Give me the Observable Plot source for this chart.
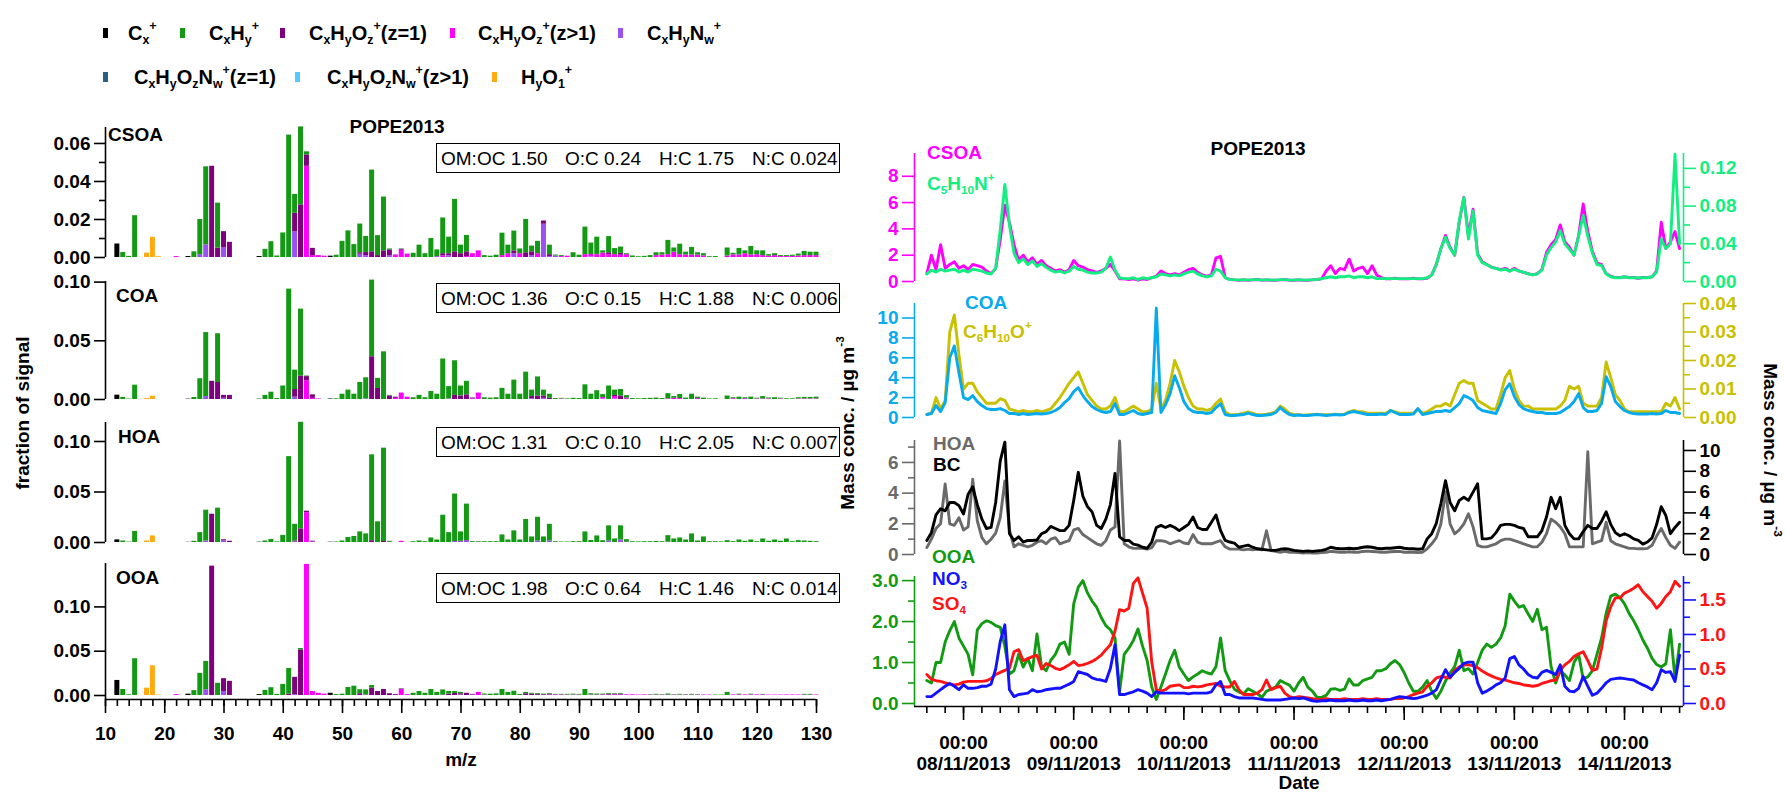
<!DOCTYPE html>
<html>
<head>
<meta charset="utf-8">
<script src="https://cdn.jsdelivr.net/npm/d3@7"></script>
<script src="https://cdn.jsdelivr.net/npm/@observablehq/plot@0.6"></script>
<style>
html,body{margin:0;padding:0;background:#fff;}
#root{position:relative;width:1785px;height:797px;overflow:hidden;background:#fff;font-family:"Liberation Sans",Arial,Helvetica,sans-serif;color:#000;}
#root svg{position:absolute;left:0;top:0;}
.t{position:absolute;white-space:nowrap;line-height:1.2;}
.t sub,.bt sub{font-size:0.62em;vertical-align:-0.32em;line-height:0;}
.t sup,.bt sup{font-size:0.62em;vertical-align:0.8em;line-height:0;}
.box{position:absolute;border:1.5px solid #000;box-sizing:border-box;}
.bt{position:absolute;top:50%;transform:translateY(-50%);white-space:nowrap;font-size:19px;line-height:1;}
.sw{position:absolute;width:5px;height:10px;}
</style>
</head>
<body>
<div id="root"></div>
<script>
// ---------------- DATA ----------------
const mzList = d3.range(12, 131);
const mzMajor = d3.range(10, 131, 10);
const mzMinor = d3.range(10, 131, 2);

const classKeys = ["Cx","CxHy","CxHyOz1","CxHyOzp","CxHyNw","CxHyOzNw1","CxHyOzNwp","HyO1"];
const classLabels = ["C<sub>x</sub><sup>+</sup>","C<sub>x</sub>H<sub>y</sub><sup>+</sup>","C<sub>x</sub>H<sub>y</sub>O<sub>z</sub><sup>+</sup>(z=1)","C<sub>x</sub>H<sub>y</sub>O<sub>z</sub><sup>+</sup>(z&gt;1)","C<sub>x</sub>H<sub>y</sub>N<sub>w</sub><sup>+</sup>","C<sub>x</sub>H<sub>y</sub>O<sub>z</sub>N<sub>w</sub><sup>+</sup>(z=1)","C<sub>x</sub>H<sub>y</sub>O<sub>z</sub>N<sub>w</sub><sup>+</sup>(z&gt;1)","H<sub>y</sub>O<sub>1</sub><sup>+</sup>"];
const classColors = ["#000000","#139913","#7f007f","#ff00ff","#9b50f0","#2b5f85","#55c8ff","#ffaa10"];

// CSOA profile [m/z, fraction]
const csoa_Cx = [[12,0.0071],[24,0.0005],[36,0.0005],[48,0.0007],[60,0.0004]];
const csoa_CxHy = [[13,0.0026],[14,0.0006],[15,0.022],[25,0.003],[26,0.0185],[27,0.041],[29,0.0236],[37,0.0043],[38,0.0083],[39,0.0008],[40,0.0129],[41,0.0644],[42,0.0099],[43,0.041],[44,0.0016],[49,0.0012],[50,0.0085],[51,0.014],[52,0.0068],[53,0.0151],[54,0.0085],[55,0.043],[56,0.0105],[57,0.0283],[58,0.0005],[62,0.0022],[63,0.0065],[64,0.002],[65,0.010],[66,0.0035],[67,0.0188],[68,0.0087],[69,0.0276],[70,0.0045],[71,0.0086],[74,0.001],[75,0.0007],[76,0.0012],[77,0.0118],[78,0.0045],[79,0.0104],[80,0.0025],[81,0.0175],[82,0.003],[83,0.0065],[85,0.005],[86,0.0005],[87,0.0005],[89,0.0025],[90,0.0012],[91,0.0145],[92,0.006],[93,0.0092],[94,0.0012],[95,0.0085],[96,0.0032],[97,0.0033],[98,0.0005],[99,0.0008],[100,0.0004],[101,0.0006],[102,0.001],[103,0.0015],[104,0.0012],[105,0.0075],[106,0.0022],[107,0.0055],[108,0.0015],[109,0.004],[110,0.0012],[111,0.0012],[112,0.0004],[113,0.0005],[115,0.0042],[116,0.0008],[117,0.0035],[118,0.0015],[119,0.0045],[120,0.002],[121,0.0025],[122,0.0008],[123,0.001],[124,0.0005],[125,0.0005],[126,0.0006],[127,0.001],[128,0.0022],[129,0.0018],[130,0.0018]];
const csoa_CxHyOz1 = [[28,0.048],[29,0.005],[30,0.0086],[31,0.008],[42,0.0097],[43,0.0277],[44,0.006],[45,0.0038],[53,0.0008],[54,0.0016],[55,0.003],[56,0.001],[57,0.0035],[58,0.003],[59,0.0003],[67,0.0012],[68,0.001],[69,0.003],[70,0.002],[71,0.0025],[79,0.0015],[81,0.0025],[82,0.002],[84,0.0017],[85,0.001],[95,0.001],[97,0.001]];
const csoa_CxHyOzp = [[22,0.0005],[44,0.048],[45,0.001],[46,0.001],[47,0.0007],[59,0.001],[60,0.004],[61,0.0018],[67,0.0008],[71,0.0005],[72,0.002],[73,0.0035],[77,0.001],[78,0.002],[80,0.002],[83,0.002],[87,0.0005],[88,0.0007],[91,0.0015],[92,0.0012],[93,0.0015],[94,0.0023],[95,0.0015],[96,0.0015],[97,0.0012],[98,0.0015],[103,0.001],[104,0.0013],[105,0.0015],[106,0.0028],[107,0.0015],[108,0.0013],[109,0.0013],[110,0.0013],[111,0.0008],[115,0.0008],[116,0.0014],[117,0.0013],[118,0.002],[119,0.0013],[120,0.0015],[121,0.001],[122,0.0007],[123,0.001],[124,0.0005],[125,0.0005],[126,0.0006],[127,0.0008],[128,0.001],[129,0.001],[130,0.001]];
const csoa_CxHyNw = [[26,0.0015],[27,0.0067],[30,0.005],[42,0.0136],[53,0.0017],[54,0.001],[58,0.001],[66,0.0005],[68,0.001],[79,0.002],[82,0.001],[84,0.0175],[85,0.0005],[86,0.0008],[92,0.0004]];
const csoa_HyO1 = [[17,0.0023],[18,0.0106],[19,0.0004]];

// COA profile
const coa_Cx = [[12,0.0037],[24,0.0003],[36,0.0003],[48,0.0004]];
const coa_CxHy = [[13,0.0018],[14,0.0004],[15,0.0122],[25,0.0017],[26,0.0177],[27,0.0545],[29,0.0415],[37,0.0035],[38,0.0062],[39,0.0008],[40,0.0115],[41,0.094],[42,0.0165],[43,0.057],[44,0.0005],[49,0.0006],[50,0.0045],[51,0.008],[52,0.0045],[53,0.0145],[54,0.018],[55,0.0653],[56,0.0086],[57,0.0406],[58,0.0005],[62,0.0015],[63,0.0035],[64,0.0015],[65,0.0068],[66,0.0045],[67,0.0345],[68,0.0105],[69,0.0295],[70,0.0085],[71,0.0115],[74,0.0015],[75,0.0012],[76,0.0015],[77,0.0095],[78,0.0045],[79,0.0165],[80,0.0045],[81,0.0233],[82,0.0055],[83,0.0162],[84,0.005],[85,0.0035],[86,0.0008],[87,0.0005],[88,0.0005],[89,0.001],[90,0.0008],[91,0.0125],[92,0.0045],[93,0.0075],[94,0.0025],[95,0.0115],[96,0.0045],[97,0.0055],[98,0.002],[99,0.0008],[100,0.0006],[101,0.0008],[102,0.001],[103,0.0012],[104,0.0008],[105,0.0045],[106,0.0015],[107,0.0035],[108,0.0012],[109,0.0045],[110,0.0012],[111,0.0012],[112,0.0005],[113,0.0006],[115,0.003],[116,0.0008],[117,0.002],[118,0.0008],[119,0.002],[120,0.0006],[121,0.002],[122,0.0008],[123,0.0015],[124,0.0006],[125,0.0006],[126,0.0006],[127,0.001],[128,0.0013],[129,0.0013],[130,0.0015]];
const coa_CxHyOz1 = [[28,0.0155],[29,0.0145],[30,0.0025],[31,0.0035],[42,0.0065],[43,0.02],[44,0.0035],[45,0.003],[55,0.0364],[56,0.0094],[58,0.003],[59,0.001],[69,0.0035],[70,0.003],[71,0.004],[72,0.0008],[82,0.002],[83,0.003],[84,0.002],[85,0.001],[96,0.001],[97,0.003],[98,0.0008]];
const coa_CxHyOzp = [[44,0.016],[45,0.001],[46,0.0005],[59,0.001],[60,0.0055],[61,0.002],[72,0.0005],[73,0.0055],[87,0.0005],[94,0.0012],[96,0.002],[98,0.0005],[105,0.0005],[106,0.001],[107,0.0008],[110,0.0008],[116,0.0007],[118,0.0007],[120,0.0005],[121,0.0005],[122,0.0005],[124,0.0005],[127,0.0005],[128,0.0005],[129,0.0005],[130,0.0005]];
const coa_CxHyNw = [[27,0.0025],[30,0.001],[42,0.002],[54,0.0005],[68,0.0005],[82,0.0005],[84,0.001],[94,0.0005],[96,0.0005]];
const coa_HyO1 = [[17,0.0008],[18,0.0028]];

// HOA profile
const hoa_Cx = [[12,0.0026],[24,0.0002],[36,0.0003],[48,0.0003]];
const hoa_CxHy = [[13,0.0015],[14,0.0004],[15,0.011],[25,0.0012],[26,0.0098],[27,0.0305],[29,0.034],[37,0.0015],[38,0.003],[39,0.0006],[40,0.007],[41,0.085],[42,0.0165],[43,0.1055],[49,0.0005],[50,0.0015],[51,0.005],[52,0.006],[53,0.0105],[54,0.0085],[55,0.085],[56,0.0205],[57,0.0924],[58,0.0008],[62,0.0008],[63,0.0015],[64,0.0008],[65,0.0045],[66,0.0025],[67,0.027],[68,0.0098],[69,0.047],[70,0.0093],[71,0.036],[72,0.0008],[73,0.0006],[74,0.0008],[75,0.0008],[76,0.0008],[77,0.0075],[78,0.0025],[79,0.0115],[80,0.0025],[81,0.0228],[82,0.0055],[83,0.0235],[84,0.0055],[85,0.0165],[86,0.0008],[87,0.0005],[88,0.0005],[89,0.0008],[90,0.0008],[91,0.0105],[92,0.002],[93,0.0065],[94,0.0018],[95,0.015],[96,0.0035],[97,0.014],[98,0.0025],[99,0.0008],[100,0.0006],[101,0.0008],[102,0.0008],[103,0.001],[104,0.0008],[105,0.0065],[106,0.0035],[107,0.0045],[108,0.0025],[109,0.0085],[110,0.0015],[111,0.0055],[112,0.0008],[113,0.0008],[114,0.0006],[115,0.0018],[116,0.0008],[117,0.0025],[118,0.0012],[119,0.0025],[120,0.0008],[121,0.0035],[122,0.0012],[123,0.0025],[124,0.0012],[125,0.0035],[126,0.0008],[127,0.0018],[128,0.0015],[129,0.0012],[130,0.0008]];
const hoa_CxHyOz1 = [[28,0.028],[30,0.0012],[31,0.0012],[42,0.001],[43,0.0135],[44,0.0015],[45,0.0008],[55,0.0018],[57,0.001],[58,0.0004],[71,0.0005]];
const hoa_CxHyOzp = [[44,0.0295],[45,0.0005],[60,0.0012],[73,0.0004],[98,0.0003],[105,0.0003]];
const hoa_CxHyNw = [[27,0.0015],[30,0.0015],[42,0.0005],[69,0.001],[70,0.0012],[71,0.0015],[83,0.0015],[85,0.0015],[95,0.0015],[97,0.0025]];
const hoa_HyO1 = [[17,0.0015],[18,0.0065]];

// OOA profile
const ooa_Cx = [[12,0.017],[24,0.0015],[36,0.001],[48,0.0025],[60,0.0005]];
const ooa_CxHy = [[13,0.0068],[14,0.0008],[15,0.0415],[25,0.0055],[26,0.025],[27,0.032],[29,0.0138],[37,0.0058],[38,0.0088],[39,0.0012],[40,0.0125],[41,0.029],[43,0.0015],[49,0.001],[50,0.0015],[51,0.009],[52,0.0105],[53,0.0045],[54,0.0058],[55,0.0028],[62,0.0025],[63,0.0045],[64,0.0025],[65,0.0068],[66,0.0035],[67,0.0058],[68,0.003],[69,0.0022],[70,0.0015],[74,0.0012],[75,0.0015],[76,0.0018],[77,0.0068],[78,0.0035],[79,0.0048],[80,0.0012],[81,0.0015],[82,0.001],[83,0.001],[84,0.0008],[85,0.0008],[86,0.0005],[87,0.0005],[88,0.0008],[89,0.001],[90,0.0008],[91,0.0068],[92,0.0015],[93,0.0012],[94,0.0008],[95,0.001],[96,0.0005],[97,0.0008],[102,0.0005],[103,0.0008],[104,0.0005],[105,0.0012],[106,0.0005],[107,0.0008],[108,0.0005],[109,0.0008],[110,0.0005],[113,0.0005],[114,0.0005],[115,0.0035],[117,0.0008],[119,0.0008],[121,0.0005],[128,0.0008],[129,0.0008]];
const ooa_CxHyOz1 = [[28,0.146],[30,0.0145],[31,0.016],[41,0.0015],[42,0.0195],[43,0.0515],[53,0.002],[55,0.0085],[56,0.0045],[57,0.0068],[58,0.002],[59,0.001],[67,0.0005],[68,0.0015],[69,0.0023],[70,0.0015],[71,0.0025],[72,0.0008],[81,0.002],[82,0.0015],[83,0.001],[84,0.0008],[85,0.001],[95,0.0008],[96,0.0008],[97,0.0008],[105,0.0005]];
const ooa_CxHyOzp = [[22,0.001],[44,0.148],[45,0.0045],[46,0.0025],[47,0.0015],[60,0.0068],[61,0.001],[72,0.0005],[73,0.0035],[74,0.0005],[85,0.0005],[86,0.0008],[87,0.0008],[88,0.0005],[89,0.0005],[90,0.0005],[92,0.0005],[93,0.0005],[94,0.0008],[95,0.0005],[96,0.0008],[97,0.0007],[98,0.0008],[99,0.0008],[100,0.0005],[101,0.0007],[102,0.0005],[103,0.0005],[104,0.0005],[106,0.0005],[107,0.0005],[108,0.0005],[109,0.0005],[110,0.0005],[111,0.0006],[112,0.0005],[116,0.0007],[117,0.0007],[118,0.0007],[119,0.0007],[120,0.0007],[121,0.0007],[122,0.0005],[123,0.0005],[124,0.0005],[125,0.0006],[126,0.0006],[127,0.0006],[128,0.0005],[129,0.0005],[130,0.0006]];
const ooa_CxHyNw = [[27,0.0065],[30,0.0045],[42,0.001],[54,0.0005],[70,0.0005]];
const ooa_HyO1 = [[17,0.0083],[18,0.0335],[19,0.0005]];
const noNitrogenOxygen = [];

const elemRatios = {
  CSOA: ["OM:OC 1.50","O:C 0.24","H:C 1.75","N:C 0.024"],
  COA:  ["OM:OC 1.36","O:C 0.15","H:C 1.88","N:C 0.006"],
  HOA:  ["OM:OC 1.31","O:C 0.10","H:C 2.05","N:C 0.007"],
  OOA:  ["OM:OC 1.98","O:C 0.64","H:C 1.46","N:C 0.014"]
};

// Time series: hourly from 07/11/2013 16:00 (UTC), 165 points
const seriesStart = Date.UTC(2013, 10, 7, 16);
const csoa = [0.6,2.0,0.9,2.8,1.0,1.3,1.5,1.0,1.2,0.9, 1.3,1.2,1.1,0.8,0.6,1.0,3.2,5.8,4.5,2.8, 1.6,2.0,1.5,1.8,1.3,1.6,1.2,1.0,0.8,0.9, 0.7,0.9,1.6,1.2,1.1,0.9,0.8,0.7,0.8,1.0, 1.3,0.8,0.2,0.2,0.15,0.2,0.1,0.2,0.15,0.3, 0.4,0.8,0.6,0.5,0.6,0.5,0.7,0.9,1.0,0.7, 0.5,0.4,0.5,1.8,1.9,0.3,0.15,0.12,0.1,0.12, 0.1,0.12,0.15,0.1,0.12,0.1,0.1,0.12,0.15,0.1, 0.1,0.12,0.1,0.1,0.12,0.15,0.2,0.8,1.2,0.6, 1.0,0.9,1.7,0.8,1.0,1.1,0.6,1.2,0.5,0.3, 0.2,0.2,0.25,0.2,0.2,0.2,0.25,0.2,0.2,0.25, 0.5,1.3,2.5,3.5,2.6,2.0,4.5,6.4,3.5,5.5, 2.1,1.5,1.3,1.1,1.0,0.9,1.0,0.8,1.0,0.8, 0.7,0.6,0.5,0.6,0.9,2.2,2.8,3.2,4.3,3.0, 2.6,2.0,3.5,5.9,3.8,2.3,1.4,1.3,0.6,0.4, 0.3,0.3,0.35,0.3,0.3,0.25,0.3,0.3,0.35,0.8, 4.5,2.5,3.0,3.8,2.5];
const c5h10n = [0.008,0.012,0.010,0.013,0.011,0.012,0.013,0.010,0.012,0.010, 0.013,0.012,0.011,0.009,0.008,0.014,0.055,0.103,0.060,0.030, 0.020,0.024,0.018,0.022,0.016,0.019,0.015,0.012,0.010,0.011, 0.009,0.011,0.016,0.013,0.012,0.010,0.009,0.009,0.010,0.014, 0.026,0.012,0.004,0.003,0.003,0.004,0.002,0.004,0.003,0.004, 0.005,0.008,0.007,0.006,0.007,0.006,0.008,0.010,0.011,0.008, 0.006,0.005,0.006,0.013,0.011,0.004,0.002,0.002,0.0015,0.002, 0.0015,0.002,0.002,0.0015,0.002,0.0015,0.0015,0.002,0.002,0.0015, 0.0015,0.002,0.0015,0.0015,0.002,0.002,0.003,0.004,0.005,0.004, 0.005,0.005,0.006,0.004,0.005,0.005,0.004,0.005,0.003,0.003, 0.003,0.003,0.003,0.003,0.003,0.003,0.003,0.003,0.003,0.004, 0.007,0.018,0.035,0.047,0.035,0.028,0.065,0.089,0.045,0.075, 0.028,0.020,0.018,0.015,0.014,0.012,0.013,0.011,0.013,0.011, 0.010,0.008,0.007,0.008,0.012,0.028,0.036,0.042,0.054,0.040, 0.034,0.028,0.048,0.070,0.048,0.030,0.018,0.017,0.008,0.005, 0.004,0.004,0.005,0.004,0.004,0.004,0.004,0.004,0.005,0.010, 0.045,0.035,0.040,0.135,0.040];
const coa = [0.3,0.4,1.2,0.6,1.5,6.0,7.2,4.5,2.0,1.8, 2.2,1.6,1.2,0.9,0.8,0.8,0.9,0.7,0.4,0.4, 0.3,0.4,0.3,0.35,0.4,0.35,0.4,0.5,0.7,1.0, 1.5,1.9,2.6,3.0,2.2,1.6,1.1,0.8,0.6,0.5, 0.6,1.4,0.3,0.3,0.5,0.7,0.4,0.3,0.4,0.5, 11.0,0.5,1.3,2.4,4.2,3.0,1.6,0.9,0.6,0.5, 0.5,0.4,0.5,1.0,1.4,0.3,0.2,0.2,0.25,0.3, 0.45,0.3,0.2,0.2,0.25,0.3,0.5,1.0,0.6,0.3, 0.2,0.25,0.2,0.2,0.25,0.3,0.25,0.2,0.25,0.3, 0.25,0.3,0.5,0.6,0.5,0.4,0.3,0.3,0.3,0.35, 0.3,0.7,0.5,0.3,0.3,0.3,0.35,0.9,0.3,0.4, 0.5,0.6,0.6,0.7,0.6,1.0,1.4,2.2,2.0,1.7, 1.0,0.7,0.6,0.5,0.4,1.4,2.8,3.4,2.1,1.3, 0.9,0.7,0.6,0.5,0.5,0.4,0.4,0.4,0.5,0.8, 1.1,1.6,2.4,1.0,0.6,0.6,0.7,1.4,4.1,3.1, 1.6,1.1,0.7,0.5,0.4,0.35,0.35,0.35,0.4,0.35, 0.4,0.7,0.5,0.5,0.4];
const c6h10o = [0.001,0.0015,0.007,0.003,0.006,0.030,0.036,0.022,0.010,0.012, 0.012,0.009,0.007,0.005,0.005,0.005,0.0066,0.006,0.003,0.0025, 0.002,0.0025,0.002,0.002,0.0025,0.002,0.0025,0.003,0.005,0.007, 0.0095,0.012,0.014,0.016,0.012,0.008,0.006,0.004,0.003,0.003, 0.004,0.007,0.002,0.002,0.003,0.004,0.003,0.002,0.002,0.003, 0.012,0.003,0.006,0.012,0.020,0.016,0.011,0.007,0.004,0.003, 0.003,0.0025,0.003,0.005,0.0065,0.002,0.001,0.001,0.0012,0.0015, 0.002,0.0015,0.001,0.001,0.0012,0.0015,0.002,0.004,0.003,0.0015, 0.001,0.001,0.0008,0.001,0.001,0.0012,0.001,0.001,0.001,0.0012, 0.001,0.0012,0.002,0.0025,0.002,0.002,0.0015,0.0015,0.0015,0.0015, 0.0015,0.0025,0.002,0.0015,0.0015,0.0015,0.0015,0.003,0.0015,0.002, 0.003,0.004,0.004,0.005,0.004,0.008,0.012,0.013,0.012,0.012, 0.006,0.005,0.004,0.003,0.003,0.008,0.014,0.0165,0.010,0.006, 0.004,0.004,0.003,0.003,0.003,0.003,0.003,0.003,0.004,0.006, 0.011,0.010,0.011,0.005,0.004,0.004,0.004,0.007,0.0195,0.014, 0.008,0.006,0.003,0.002,0.002,0.002,0.002,0.002,0.002,0.002, 0.002,0.005,0.004,0.007,0.003];
const hoa = [0.45,1.0,1.7,2.0,4.6,2.0,1.9,2.4,1.6,1.8, 4.9,2.2,1.1,0.7,1.0,1.4,2.4,4.8,1.6,0.5, 0.7,0.6,0.5,0.6,0.8,0.9,0.7,1.0,1.1,0.7, 0.8,0.9,1.6,1.7,1.3,1.1,0.9,0.7,0.6,0.9, 1.6,1.8,7.4,0.7,0.5,0.4,0.4,0.4,0.35,0.45, 0.9,0.9,0.85,0.7,0.8,0.9,0.75,0.7,1.3,0.8, 0.7,0.7,0.7,0.8,0.9,0.5,0.35,0.35,0.35,0.3, 0.35,0.3,0.35,0.3,1.55,0.25,0.2,0.15,0.2,0.15, 0.15,0.12,0.1,0.12,0.1,0.1,0.12,0.15,0.2,0.18, 0.15,0.15,0.18,0.15,0.15,0.2,0.22,0.2,0.18,0.15, 0.15,0.18,0.2,0.2,0.15,0.15,0.15,0.12,0.15,0.37, 0.7,1.1,2.0,4.1,2.0,1.35,1.6,2.0,2.65,1.8, 0.6,0.5,0.5,0.6,0.7,0.9,1.0,1.0,0.9,0.8, 0.7,0.6,0.5,0.5,0.8,1.35,2.3,2.1,1.8,1.35, 0.5,0.5,0.5,0.5,6.7,0.7,0.8,0.9,2.1,0.9, 0.7,0.6,0.5,0.4,0.4,0.37,0.37,0.4,0.6,1.2, 1.7,1.1,0.6,0.4,0.8];
const bc = [1.35,2.1,3.8,4.4,4.2,5.0,5.0,4.7,3.9,5.8, 6.5,4.8,3.4,2.5,2.6,5.0,9.0,10.8,2.0,1.35, 1.7,1.2,1.35,1.35,1.4,2.0,2.2,2.7,2.5,2.3, 2.3,2.8,5.2,7.9,5.6,4.6,4.1,2.8,2.5,3.4, 4.8,7.8,1.7,1.35,1.35,1.0,0.9,0.7,0.6,1.2, 2.6,2.8,2.6,2.8,2.6,2.3,2.6,2.9,3.6,2.6, 2.4,2.4,3.1,3.8,2.3,1.35,1.2,1.1,0.7,0.8, 0.9,0.7,0.55,0.5,0.45,0.4,0.4,0.5,0.55,0.5, 0.4,0.35,0.3,0.35,0.3,0.35,0.4,0.5,0.7,0.6, 0.55,0.55,0.6,0.55,0.6,0.7,0.75,0.7,0.6,0.55, 0.6,0.6,0.65,0.7,0.6,0.55,0.55,0.5,0.55,1.5, 2.0,3.0,4.9,7.1,5.0,4.2,5.2,5.5,5.2,6.0, 6.8,1.5,1.5,1.6,2.1,2.8,2.9,2.9,2.8,2.6, 2.5,1.7,1.7,1.7,2.3,3.6,5.5,4.4,5.5,2.8, 2.0,1.5,1.5,2.2,2.8,2.5,2.5,3.2,4.1,2.9, 2.1,1.8,2.0,1.8,1.5,1.35,1.0,1.2,1.6,2.9, 4.6,3.75,2.0,2.6,3.1];
const ooa = [0.56,0.5,1.0,1.0,1.5,1.78,2.0,1.6,1.4,1.2, 0.7,1.8,1.95,2.02,1.98,1.9,1.86,1.4,0.72,0.8, 1.2,0.89,1.1,0.8,1.7,0.9,0.8,1.05,1.2,1.45, 1.5,1.2,2.43,2.84,3.0,2.7,2.5,2.35,2.1,1.9, 1.8,1.6,0.3,1.2,1.35,1.54,1.82,1.4,1.05,0.4, 0.1,0.4,0.72,1.05,1.3,0.89,0.72,0.56,0.65,0.72, 0.8,0.75,0.72,0.9,1.6,0.8,0.56,0.35,0.28,0.24, 0.36,0.3,0.24,0.15,0.3,0.35,0.4,0.56,0.5,0.45, 0.3,0.5,0.64,0.4,0.3,0.15,0.15,0.2,0.35,0.36, 0.32,0.35,0.6,0.45,0.45,0.56,0.6,0.64,0.8,0.8, 0.85,0.97,1.05,0.95,0.75,0.5,0.3,0.3,0.4,0.56, 0.3,0.12,0.3,0.55,0.75,0.9,1.3,0.8,0.85,0.72, 1.0,1.3,1.45,1.37,1.45,1.6,1.9,2.67,2.5,2.35, 2.39,2.19,2.0,2.3,1.8,1.86,0.9,0.5,0.8,0.7, 0.56,1.0,1.2,0.6,0.65,0.8,1.2,1.6,2.2,2.62, 2.67,2.59,2.43,2.2,2.02,1.8,1.55,1.35,1.1,0.95, 0.89,0.97,1.8,0.6,1.45];
const no3 = [0.1,0.1,0.15,0.2,0.25,0.29,0.25,0.2,0.27,0.22, 0.22,0.23,0.25,0.25,0.28,0.5,0.9,1.14,0.2,0.1, 0.13,0.14,0.15,0.2,0.17,0.18,0.2,0.21,0.22,0.22, 0.25,0.28,0.32,0.46,0.44,0.42,0.37,0.35,0.34,0.32, 0.51,0.85,0.13,0.13,0.15,0.17,0.2,0.18,0.15,0.1, 0.17,0.15,0.15,0.15,0.15,0.15,0.15,0.14,0.15,0.15, 0.15,0.15,0.17,0.27,0.32,0.13,0.13,0.1,0.08,0.08, 0.08,0.08,0.07,0.06,0.05,0.05,0.05,0.05,0.06,0.07, 0.08,0.07,0.08,0.06,0.04,0.03,0.04,0.04,0.05,0.04, 0.04,0.04,0.05,0.04,0.04,0.05,0.04,0.04,0.05,0.04, 0.05,0.06,0.08,0.1,0.09,0.08,0.07,0.08,0.1,0.12, 0.15,0.2,0.35,0.49,0.38,0.45,0.51,0.58,0.6,0.6, 0.3,0.15,0.18,0.22,0.27,0.3,0.37,0.65,0.68,0.56, 0.5,0.42,0.38,0.37,0.45,0.48,0.45,0.42,0.56,0.25, 0.18,0.17,0.22,0.39,0.25,0.12,0.15,0.22,0.3,0.35, 0.36,0.37,0.36,0.35,0.34,0.3,0.27,0.24,0.2,0.3, 0.49,0.45,0.46,0.32,0.7];
const so4 = [0.42,0.35,0.33,0.32,0.3,0.28,0.27,0.28,0.31,0.32, 0.32,0.32,0.32,0.33,0.36,0.42,0.45,0.48,0.51,0.75, 0.78,0.62,0.65,0.68,0.7,0.5,0.58,0.55,0.51,0.49, 0.52,0.56,0.61,0.55,0.56,0.58,0.61,0.65,0.7,0.78, 0.85,1.05,1.36,1.34,1.38,1.74,1.82,1.6,1.38,0.6, 0.2,0.18,0.2,0.25,0.26,0.27,0.23,0.23,0.25,0.24, 0.25,0.27,0.28,0.29,0.25,0.24,0.24,0.32,0.2,0.13, 0.13,0.13,0.15,0.2,0.34,0.2,0.23,0.25,0.15,0.1, 0.08,0.1,0.09,0.08,0.07,0.06,0.06,0.07,0.06,0.06, 0.06,0.07,0.06,0.06,0.06,0.07,0.06,0.06,0.07,0.06, 0.06,0.06,0.07,0.07,0.08,0.1,0.13,0.15,0.17,0.25, 0.3,0.37,0.39,0.38,0.37,0.48,0.53,0.56,0.56,0.55, 0.52,0.47,0.43,0.4,0.37,0.35,0.34,0.32,0.3,0.29, 0.27,0.26,0.25,0.26,0.29,0.31,0.33,0.34,0.48,0.56, 0.61,0.68,0.72,0.75,0.62,0.48,0.5,0.8,1.2,1.4, 1.53,1.53,1.6,1.63,1.67,1.72,1.62,1.55,1.48,1.38, 1.45,1.55,1.62,1.77,1.7];

// ---------------- RENDER ----------------
const W = 1785, H = 797;
const root = document.getElementById("root");
const FONT = "'Liberation Sans', Arial, Helvetica, sans-serif";
const classColor = Object.fromEntries(classKeys.map((k, i) => [k, classColors[i]]));
const stackOrder = ["HyO1","CxHyOzNwp","CxHyOzNw1","CxHyNw","CxHyOzp","CxHyOz1","CxHy","Cx"];

function text(html, x, cy, o = {}) {
  const size = o.size || 19;
  const d = document.createElement("div");
  d.className = "t";
  d.innerHTML = html;
  d.style.left = x + "px";
  d.style.top = (cy - 0.6 * size) + "px";
  d.style.fontSize = size + "px";
  d.style.fontWeight = o.weight || "bold";
  d.style.color = o.color || "#000";
  if (o.anchor === "middle") d.style.transform = "translateX(-50%)";
  if (o.rotate) { d.style.top = cy + "px"; d.style.transform = `translate(-50%,-50%) rotate(${o.rotate}deg)`; }
  root.appendChild(d);
}

function specPlot(prof, y0, y1, max, ticks, minor, withX) {
  const maps = {};
  for (const k of classKeys) maps[k] = new Map(prof[k] || []);
  const rows = [];
  for (const m of mzList) {
    let base = 0;
    for (const k of stackOrder) {
      const v = maps[k].get(m) || 0;
      if (v > 0) { rows.push({mz: m, y1: base, y2: base + v, fill: classColor[k]}); base += v; }
    }
  }
  const ins = withX ? 4 : 0;
  const marks = [
    Plot.rect(rows, {x1: d => d.mz - 0.42, x2: d => d.mz + 0.42, y1: "y1", y2: "y2", fill: "fill"}),
    Plot.ruleX([10], {stroke: "#000", strokeWidth: 1.6}),
    Plot.axisY({ticks, tickFormat: ".2f", tickSize: 11, tickPadding: 4, fontSize: 19, fontWeight: "bold", strokeWidth: 1.6, label: null})
  ];
  if (minor) marks.push(Plot.axisY({ticks: minor, tickSize: 6, tickFormat: () => "", strokeWidth: 1.6, label: null}));
  if (withX) marks.push(
    Plot.ruleY([0], {dy: ins, stroke: "#000", strokeWidth: 1.6}),
    Plot.axisX({ticks: mzMajor, tickSize: 14, tickPadding: 13, fontSize: 19, fontWeight: "bold", strokeWidth: 1.6, label: null}),
    Plot.axisX({ticks: mzMinor, tickSize: 7, tickFormat: () => "", strokeWidth: 1.6, label: null})
  );
  return Plot.plot({
    width: W, height: H,
    marginLeft: 105, marginRight: W - 816, marginTop: y0, marginBottom: H - y1 - ins, insetBottom: ins,
    x: withX ? {domain: [10, 130]} : {domain: [10, 130], axis: null},
    y: {domain: [0, max]},
    color: {type: "identity"},
    style: {background: "transparent", fontFamily: FONT, overflow: "visible"},
    marks
  });
}

const profiles = [
  {name: "CSOA", prof: {Cx: csoa_Cx, CxHy: csoa_CxHy, CxHyOz1: csoa_CxHyOz1, CxHyOzp: csoa_CxHyOzp, CxHyNw: csoa_CxHyNw, CxHyOzNw1: noNitrogenOxygen, CxHyOzNwp: noNitrogenOxygen, HyO1: csoa_HyO1},
   y0: 127, y1: 257, max: 0.0684, ticks: [0, 0.02, 0.04, 0.06], minor: [0.01, 0.03, 0.05], lx: 108, ly: 135, box: 143},
  {name: "COA", prof: {Cx: coa_Cx, CxHy: coa_CxHy, CxHyOz1: coa_CxHyOz1, CxHyOzp: coa_CxHyOzp, CxHyNw: coa_CxHyNw, HyO1: coa_HyO1},
   y0: 281, y1: 399, max: 0.1005, ticks: [0, 0.05, 0.10], minor: null, lx: 116, ly: 296, box: 283},
  {name: "HOA", prof: {Cx: hoa_Cx, CxHy: hoa_CxHy, CxHyOz1: hoa_CxHyOz1, CxHyOzp: hoa_CxHyOzp, CxHyNw: hoa_CxHyNw, HyO1: hoa_HyO1},
   y0: 422, y1: 542, max: 0.1188, ticks: [0, 0.05, 0.10], minor: null, lx: 118, ly: 437, box: 427},
  {name: "OOA", prof: {Cx: ooa_Cx, CxHy: ooa_CxHy, CxHyOz1: ooa_CxHyOz1, CxHyOzp: ooa_CxHyOzp, CxHyNw: ooa_CxHyNw, HyO1: ooa_HyO1},
   y0: 563, y1: 695, max: 0.149, ticks: [0, 0.05, 0.10], minor: null, lx: 116, ly: 578, box: 573, withX: true}
];
for (const p of profiles) {
  root.appendChild(specPlot(p.prof, p.y0, p.y1, p.max, p.ticks, p.minor, !!p.withX));
  text(p.name, p.lx, p.ly);
  const b = document.createElement("div");
  b.className = "box";
  b.style.cssText = `left:436px;top:${p.box}px;width:404px;height:30px;`;
  const offs = [4, 128, 222, 315];
  elemRatios[p.name].forEach((s, i) => {
    const sp = document.createElement("span");
    sp.className = "bt"; sp.style.left = offs[i] + "px"; sp.textContent = s;
    b.appendChild(sp);
  });
  root.appendChild(b);
}

// Time series panels
const times = csoa.map((_, i) => new Date(seriesStart + i * 3600e3));
const tStart = new Date(Date.UTC(2013, 10, 7, 13, 19));
const tEnd = new Date(Date.UTC(2013, 10, 14, 12, 51));
const dayTicks = d3.utcDays(new Date(Date.UTC(2013, 10, 8)), new Date(Date.UTC(2013, 10, 14, 1)));
const hourTicks = d3.utcHour.every(4).range(tStart, tEnd);
const fmtDay = d3.utcFormat("%d/%m/%Y");
const fmtTime = d3.utcFormat("%H:%M");

function tsPlot(c) {
  const ins = c.inset || 0;
  const marks = c.lines.map(s => Plot.line(s.v, {x: (d, i) => times[i], y: d => d, stroke: s.c, strokeWidth: 2.9}));
  marks.push(Plot.ruleX([c.anchor === "left" ? tStart : tEnd], {stroke: c.axisColor, strokeWidth: 1.6}));
  marks.push(Plot.axisY({anchor: c.anchor, ticks: c.ticks, tickFormat: c.fmt, tickSize: 12, tickPadding: 4, fontSize: 19, fontWeight: "bold", stroke: c.axisColor, fill: c.labelColor || c.axisColor, strokeWidth: 1.6, label: null}));
  if (c.minor) marks.push(Plot.axisY({anchor: c.anchor, ticks: c.minor, tickSize: 6, tickFormat: () => "", stroke: c.axisColor, strokeWidth: 1.6, label: null}));
  if (c.dateAxis) marks.push(
    Plot.ruleY([0], {dy: ins, stroke: "#000", strokeWidth: 1.6}),
    Plot.axisX({ticks: dayTicks, tickSize: 14, tickFormat: () => "", strokeWidth: 1.6, label: null}),
    Plot.axisX({ticks: hourTicks, tickSize: 7, tickFormat: () => "", strokeWidth: 1.6, label: null}),
    Plot.axisX({ticks: dayTicks, tickFormat: fmtTime, tickSize: 0, tickPadding: 29, fontSize: 19, fontWeight: "bold", label: null}),
    Plot.axisX({ticks: dayTicks, tickFormat: fmtDay, tickSize: 0, tickPadding: 50, fontSize: 19, fontWeight: "bold", label: null})
  );
  return Plot.plot({
    width: W, height: H,
    marginLeft: 914, marginRight: W - 1683, marginTop: c.y0, marginBottom: H - c.y1 - ins, insetBottom: ins,
    x: c.dateAxis ? {type: "utc", domain: [tStart, tEnd]} : {type: "utc", domain: [tStart, tEnd], axis: null},
    y: {domain: c.domain},
    style: {background: "transparent", fontFamily: FONT, overflow: "visible"},
    marks
  });
}

const MAG = "#ff00ff", SPRING = "#12ee80", SKY = "#08aaee", OLIVE = "#c8c000", GREY = "#6a6a6a", OGREEN = "#129a12", BLUE = "#1212ff", RED = "#ff1414";

// Panel 1
root.appendChild(tsPlot({y0: 153, y1: 281, domain: [0, 9.73], anchor: "left", ticks: [0,2,4,6,8], fmt: "d", axisColor: MAG, lines: [{v: csoa, c: MAG}]}));
root.appendChild(tsPlot({y0: 153, y1: 281, domain: [0, 0.1358], anchor: "right", ticks: [0,0.04,0.08,0.12], minor: [0.02,0.06,0.10], fmt: ".2f", axisColor: SPRING, lines: [{v: c5h10n, c: SPRING}]}));
// Panel 2
root.appendChild(tsPlot({y0: 303, y1: 417, domain: [0, 0.04], anchor: "right", ticks: [0,0.01,0.02,0.03,0.04], minor: [0.005,0.015,0.025,0.035], fmt: ".2f", axisColor: OLIVE, lines: [{v: c6h10o, c: OLIVE}]}));
root.appendChild(tsPlot({y0: 303, y1: 417, domain: [0, 11.46], anchor: "left", ticks: [0,2,4,6,8,10], fmt: "d", axisColor: SKY, lines: [{v: coa, c: SKY}]}));
// Panel 3
root.appendChild(tsPlot({y0: 440, y1: 554, domain: [0, 7.43], anchor: "left", ticks: [0,2,4,6], minor: [1,3,5,7], fmt: "d", axisColor: GREY, lines: [{v: hoa, c: GREY}]}));
root.appendChild(tsPlot({y0: 440, y1: 554, domain: [0, 10.96], anchor: "right", ticks: [0,2,4,6,8,10], fmt: "d", axisColor: "#000", lines: [{v: bc, c: "#000"}]}));
// Panel 4
root.appendChild(tsPlot({y0: 576, y1: 703, inset: 3, domain: [0, 3.1], anchor: "left", ticks: [0,1,2,3], minor: [0.5,1.5,2.5], fmt: ".1f", axisColor: OGREEN, lines: [{v: ooa, c: OGREEN}], dateAxis: true}));
root.appendChild(tsPlot({y0: 576, y1: 703, inset: 3, domain: [0, 1.84], anchor: "right", ticks: [0,0.5,1.0,1.5], minor: [0.25,0.75,1.25,1.75], fmt: ".1f", axisColor: BLUE, labelColor: RED, lines: [{v: so4, c: RED}, {v: no3, c: BLUE}]}));

// ---------------- TEXT ----------------
// Legend
const legendPos = [[105,128,33],[182,209,33],[282,309,33],[452,478,33],[620,647,33],[105,134,77],[297,327,77],[494,521,77]];
classKeys.forEach((k, i) => {
  const [sx, tx, cy] = legendPos[i];
  const s = document.createElement("div");
  s.className = "sw";
  s.style.left = (sx - 2.5) + "px"; s.style.top = (cy - 5) + "px"; s.style.background = classColors[i];
  root.appendChild(s);
  text(classLabels[i], tx, cy, {size: 20});
});

text("POPE2013", 397, 127, {anchor: "middle"});
text("POPE2013", 1258, 149, {anchor: "middle"});
text("fraction of signal", 23, 413, {rotate: -90});
text("m/z", 461, 760, {anchor: "middle"});
text("Date", 1299, 783, {anchor: "middle"});
text("Mass conc. / µg m<sup>-3</sup>", 848, 423, {rotate: -90});
text("Mass conc. / µg m<sup>-3</sup>", 1770, 450, {rotate: 90});

text("CSOA", 927, 153, {color: MAG});
text("C<sub>5</sub>H<sub>10</sub>N<sup>+</sup>", 927, 184, {color: SPRING});
text("COA", 965, 303, {color: SKY});
text("C<sub>6</sub>H<sub>10</sub>O<sup>+</sup>", 963, 332, {color: OLIVE});
text("HOA", 933, 444, {color: GREY});
text("BC", 933, 465, {color: "#000"});
text("OOA", 932, 557, {color: OGREEN});
text("NO<sub>3</sub>", 932, 579, {color: BLUE});
text("SO<sub>4</sub>", 932, 604, {color: RED});
</script>
</body>
</html>
